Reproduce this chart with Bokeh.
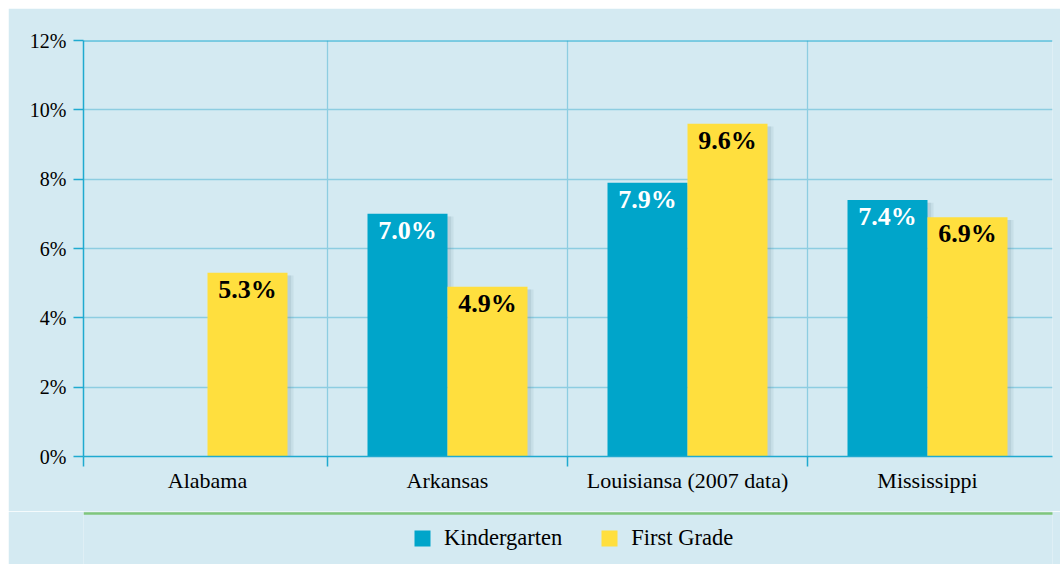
from bokeh.plotting import figure
from bokeh.models import (ColumnDataSource, FixedTicker, PrintfTickFormatter, Span,
                          Legend, LegendItem, Range1d)
from bokeh.layouts import column
from bokeh.core.properties import value
from bokeh.embed import file_html
from bokeh.resources import INLINE
import math

# ---- data ----
states = ["Alabama", "Arkansas", "Louisiansa (2007 data)", "Mississippi"]
kindergarten = [float("nan"), 7.0, 7.9, 7.4]
first_grade = [5.3, 4.9, 9.6, 6.9]
y_ticks = [0, 2, 4, 6, 8, 10, 12]
series_names = ["Kindergarten", "First Grade"]

# ---- style ----
BG = "#D4EAF2"
BLUE = "#00A5CA"
YELLOW = "#FFDF3E"
AXIS = "#1FAAD0"
GRID = "#8DCDE1"
GREEN = "#80C67C"
FONT = "Liberation Serif"

W = 1052
H1 = 503
H2 = 53
BAR_W = 1 / 3
FL, FR = 75, 1044          # frame edges (px, figure coords)
X0 = 199                   # centre of first category (px)
STEP = 240                 # px per category

xs = list(range(len(states)))
x_k = [x - BAR_W / 2 for x in xs]
x_f = [x + BAR_W / 2 for x in xs]

p = figure(width=W, height=H1, output_backend="svg", toolbar_location=None,
           x_range=Range1d((FL - X0) / STEP, (FR - X0) / STEP), y_range=Range1d(0, 12),
           min_border_left=FL, min_border_right=W - FR, min_border_top=32,
           min_border_bottom=H1 - 448)
p.background_fill_color = BG
p.border_fill_color = BG
p.outline_line_color = None

# shadows
for off, alpha in [(0.025, 0.10), (0.015, 0.14)]:
    k_src = ColumnDataSource(dict(x=[v + off for v in x_k],
                                  top=[v - 0.08 if not math.isnan(v) else v for v in kindergarten]))
    f_src = ColumnDataSource(dict(x=[v + off for v in x_f], top=[v - 0.08 for v in first_grade]))
    p.vbar(x="x", top="top", width=BAR_W, bottom=-0.3, source=k_src,
           fill_color="#5A7F8E", fill_alpha=alpha, line_color=None)
    p.vbar(x="x", top="top", width=BAR_W, bottom=-0.3, source=f_src,
           fill_color="#5A7F8E", fill_alpha=alpha, line_color=None)

src_k = ColumnDataSource(dict(x=x_k, top=kindergarten))
src_f = ColumnDataSource(dict(x=x_f, top=first_grade))
rk = p.vbar(x="x", top="top", width=BAR_W, source=src_k, fill_color=BLUE, line_color=None)
rf = p.vbar(x="x", top="top", width=BAR_W, source=src_f, fill_color=YELLOW, line_color=None)

# value labels
lk = [(x, v) for x, v in zip(x_k, kindergarten) if not math.isnan(v)]
lf = [(x, v) for x, v in zip(x_f, first_grade) if not math.isnan(v)]
lab_k = ColumnDataSource(dict(x=[a for a, b in lk], y=[b for a, b in lk],
                              t=[f"{b:.1f}%" for a, b in lk]))
lab_f = ColumnDataSource(dict(x=[a for a, b in lf], y=[b for a, b in lf],
                              t=[f"{b:.1f}%" for a, b in lf]))
p.text(x="x", y="y", text="t", source=lab_k, text_align="center", text_baseline="top",
       y_offset=2, text_color="white", text_font=value(FONT), text_font_style="bold",
       text_font_size="26px")
p.text(x="x", y="y", text="t", source=lab_f, text_align="center", text_baseline="top",
       y_offset=2, text_color="black", text_font=value(FONT), text_font_style="bold",
       text_font_size="26px")

# grids
p.ygrid.ticker = FixedTicker(ticks=y_ticks)
p.ygrid.grid_line_color = GRID
p.ygrid.grid_line_width = 1.3
p.xgrid.ticker = FixedTicker(ticks=[0.5, 1.5, 2.5])
p.xgrid.grid_line_color = GRID
p.xgrid.grid_line_width = 1.3
p.add_layout(Span(location=12, dimension="width", line_color=AXIS, line_width=2))

# y axis
p.yaxis.ticker = FixedTicker(ticks=y_ticks)
p.yaxis.formatter = PrintfTickFormatter(format="%d%%")
p.yaxis.axis_line_color = AXIS
p.yaxis.axis_line_width = 1.5
p.yaxis.major_tick_line_color = AXIS
p.yaxis.major_tick_line_width = 1.5
p.yaxis.major_tick_out = 10
p.yaxis.major_tick_in = 0
p.yaxis.minor_tick_line_color = None
p.yaxis.major_label_standoff = 7
p.yaxis.major_label_text_font = FONT
p.yaxis.major_label_text_font_size = "20px"
p.yaxis.major_label_text_color = "black"

# x axis
p.xaxis.ticker = FixedTicker(ticks=xs, minor_ticks=[(FL - X0) / STEP + 0.001, 0.5, 1.5, 2.5])
p.xaxis.major_label_overrides = {i: s for i, s in enumerate(states)}
p.xaxis.axis_line_color = AXIS
p.xaxis.axis_line_width = 1.5
p.xaxis.major_tick_line_color = None
p.xaxis.major_tick_out = 0
p.xaxis.major_tick_in = 0
p.xaxis.minor_tick_line_color = AXIS
p.xaxis.minor_tick_line_width = 1.5
p.xaxis.minor_tick_out = 10
p.xaxis.minor_tick_in = 0
p.xaxis.major_label_standoff = 1
p.xaxis.major_label_text_font = FONT
p.xaxis.major_label_text_font_size = "22px"
p.xaxis.major_label_text_color = "black"

# ---- legend strip ----
p2 = figure(width=W, height=H2, output_backend="svg", toolbar_location=None,
            x_range=Range1d(FL, FR), y_range=Range1d(H2, 0),
            x_axis_type=None, y_axis_type=None, min_border=0,
            min_border_left=FL, min_border_right=W - FR)
p2.background_fill_color = BG
p2.border_fill_color = BG
p2.outline_line_color = None
p2.grid.visible = False
p2.segment(x0=[FL], y0=[2], x1=[W], y1=[2], line_color=GREEN, line_width=2.5)
dk = p2.vbar(x=[-500], top=[-500], width=1, fill_color=BLUE, line_color=None)
df = p2.vbar(x=[-500], top=[-500], width=1, fill_color=YELLOW, line_color=None)
legend = Legend(items=[LegendItem(label=series_names[0], renderers=[dk]),
                       LegendItem(label=series_names[1], renderers=[df])],
                orientation="horizontal", location=(412 - 8 - FL, 13),
                glyph_width=20, glyph_height=20, label_standoff=12, spacing=37,
                padding=0, margin=0, border_line_color=None,
                background_fill_alpha=0,
                label_text_font=FONT, label_text_font_size="22.5px",
                label_text_color="black")
p2.add_layout(legend)

layout = column(p, p2, spacing=0, margin=(8, 0, 0, 8))
open("out.html", "w").write(file_html(layout, INLINE))
